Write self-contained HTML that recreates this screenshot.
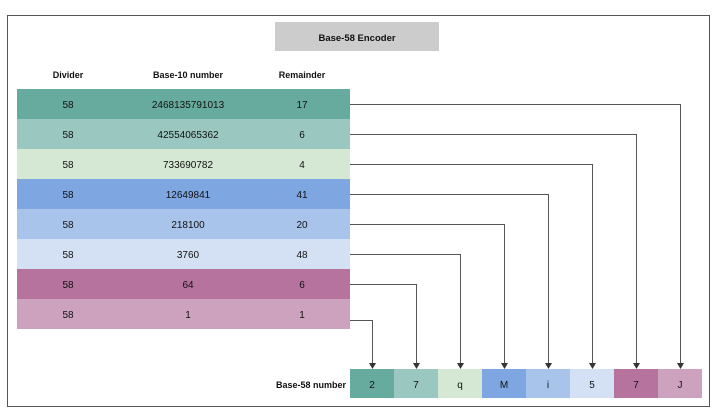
<!DOCTYPE html>
<html><head><meta charset="utf-8">
<style>
html,body{margin:0;padding:0;background:#fff;}
svg{display:block;font-family:"Liberation Sans",Arial,sans-serif;}
</style></head>
<body>
<svg id="chart" width="723" height="420" viewBox="0 0 723 420">
<defs>
<marker id="arr" markerWidth="8" markerHeight="8" refX="4" refY="7" orient="0" markerUnits="userSpaceOnUse">
<path d="M0.5,2 L7.5,2 L4,8 Z" fill="#333"/>
</marker>
</defs>
<rect x="7.5" y="15.5" width="702" height="391" fill="#fff" stroke="#555" stroke-width="1"/>
<rect x="275" y="22" width="164" height="29" fill="#cccccc"/>
<text x="357" y="41" text-anchor="middle" font-size="9.5" font-weight="bold" fill="#111">Base-58 Encoder</text>
<text x="68" y="78" text-anchor="middle" font-size="9" font-weight="bold" fill="#111">Divider</text>
<text x="188" y="78" text-anchor="middle" font-size="9" font-weight="bold" fill="#111">Base-10 number</text>
<text x="302" y="78" text-anchor="middle" font-size="9" font-weight="bold" fill="#111">Remainder</text>
<text x="346" y="388" text-anchor="end" font-size="9" font-weight="bold" fill="#111">Base-58 number</text>
<g id="rows"></g>
<g id="lines"></g>
<g id="out"></g>
</svg>
<script>
const dividers = ["58","58","58","58","58","58","58","58"];
const base10 = ["2468135791013","42554065362","733690782","12649841","218100","3760","64","1"];
const remainders = ["17","6","4","41","20","48","6","1"];
const digits = ["2","7","q","M","i","5","7","J"];
const colors = ["#67ab9f","#9ac7bf","#d5e8d4","#7ea6e0","#a9c4eb","#d4e1f5","#b5739d","#cda2be"];
const NS="http://www.w3.org/2000/svg";
const rowY = i => 89 + i*30;
const boxX = j => 350 + j*44;
function mk(tag, attrs, parent){const e=document.createElementNS(NS,tag);for(const k in attrs)e.setAttribute(k,attrs[k]);parent.appendChild(e);return e;}
const rows=document.getElementById('rows'), lines=document.getElementById('lines'), out=document.getElementById('out');
const n = base10.length;
for(let i=0;i<n;i++){
  const g=mk('g',{},rows);
  
  
  const r=mk('rect',{x:17,y:rowY(i),width:333,height:30,fill:colors[i]},g);
  
  
  const cy=rowY(i)+19;
  const t1=mk('text',{x:68,y:cy,'text-anchor':'middle','font-size':10,fill:'#111'},g);t1.textContent=dividers[i];
  
  
  const t2=mk('text',{x:188,y:cy,'text-anchor':'middle','font-size':10,fill:'#111'},g);t2.textContent=base10[i];
  
  
  const t3=mk('text',{x:302,y:cy,'text-anchor':'middle','font-size':10,fill:'#111'},g);t3.textContent=remainders[i];
  
  
  // connector: row i -> box (n-1-i)
  const j=n-1-i;
  const lx=boxX(j)+22, ly=rowY(i)+15+(i===n-1?6:0);
  const p=mk('path',{d:`M350,${ly+0.5} H${lx+0.5} V368`,fill:'none',stroke:'#555','stroke-width':1,'marker-end':'url(#arr)'},lines);
  
  
}
for(let j=0;j<digits.length;j++){
  const b=mk('rect',{x:boxX(j),y:369,width:44,height:29,fill:colors[j]},out);
  
  
  const t=mk('text',{x:boxX(j)+22,y:388,'text-anchor':'middle','font-size':10,fill:'#111'},out);t.textContent=digits[j];
  
  
}
</script>
</body></html>
